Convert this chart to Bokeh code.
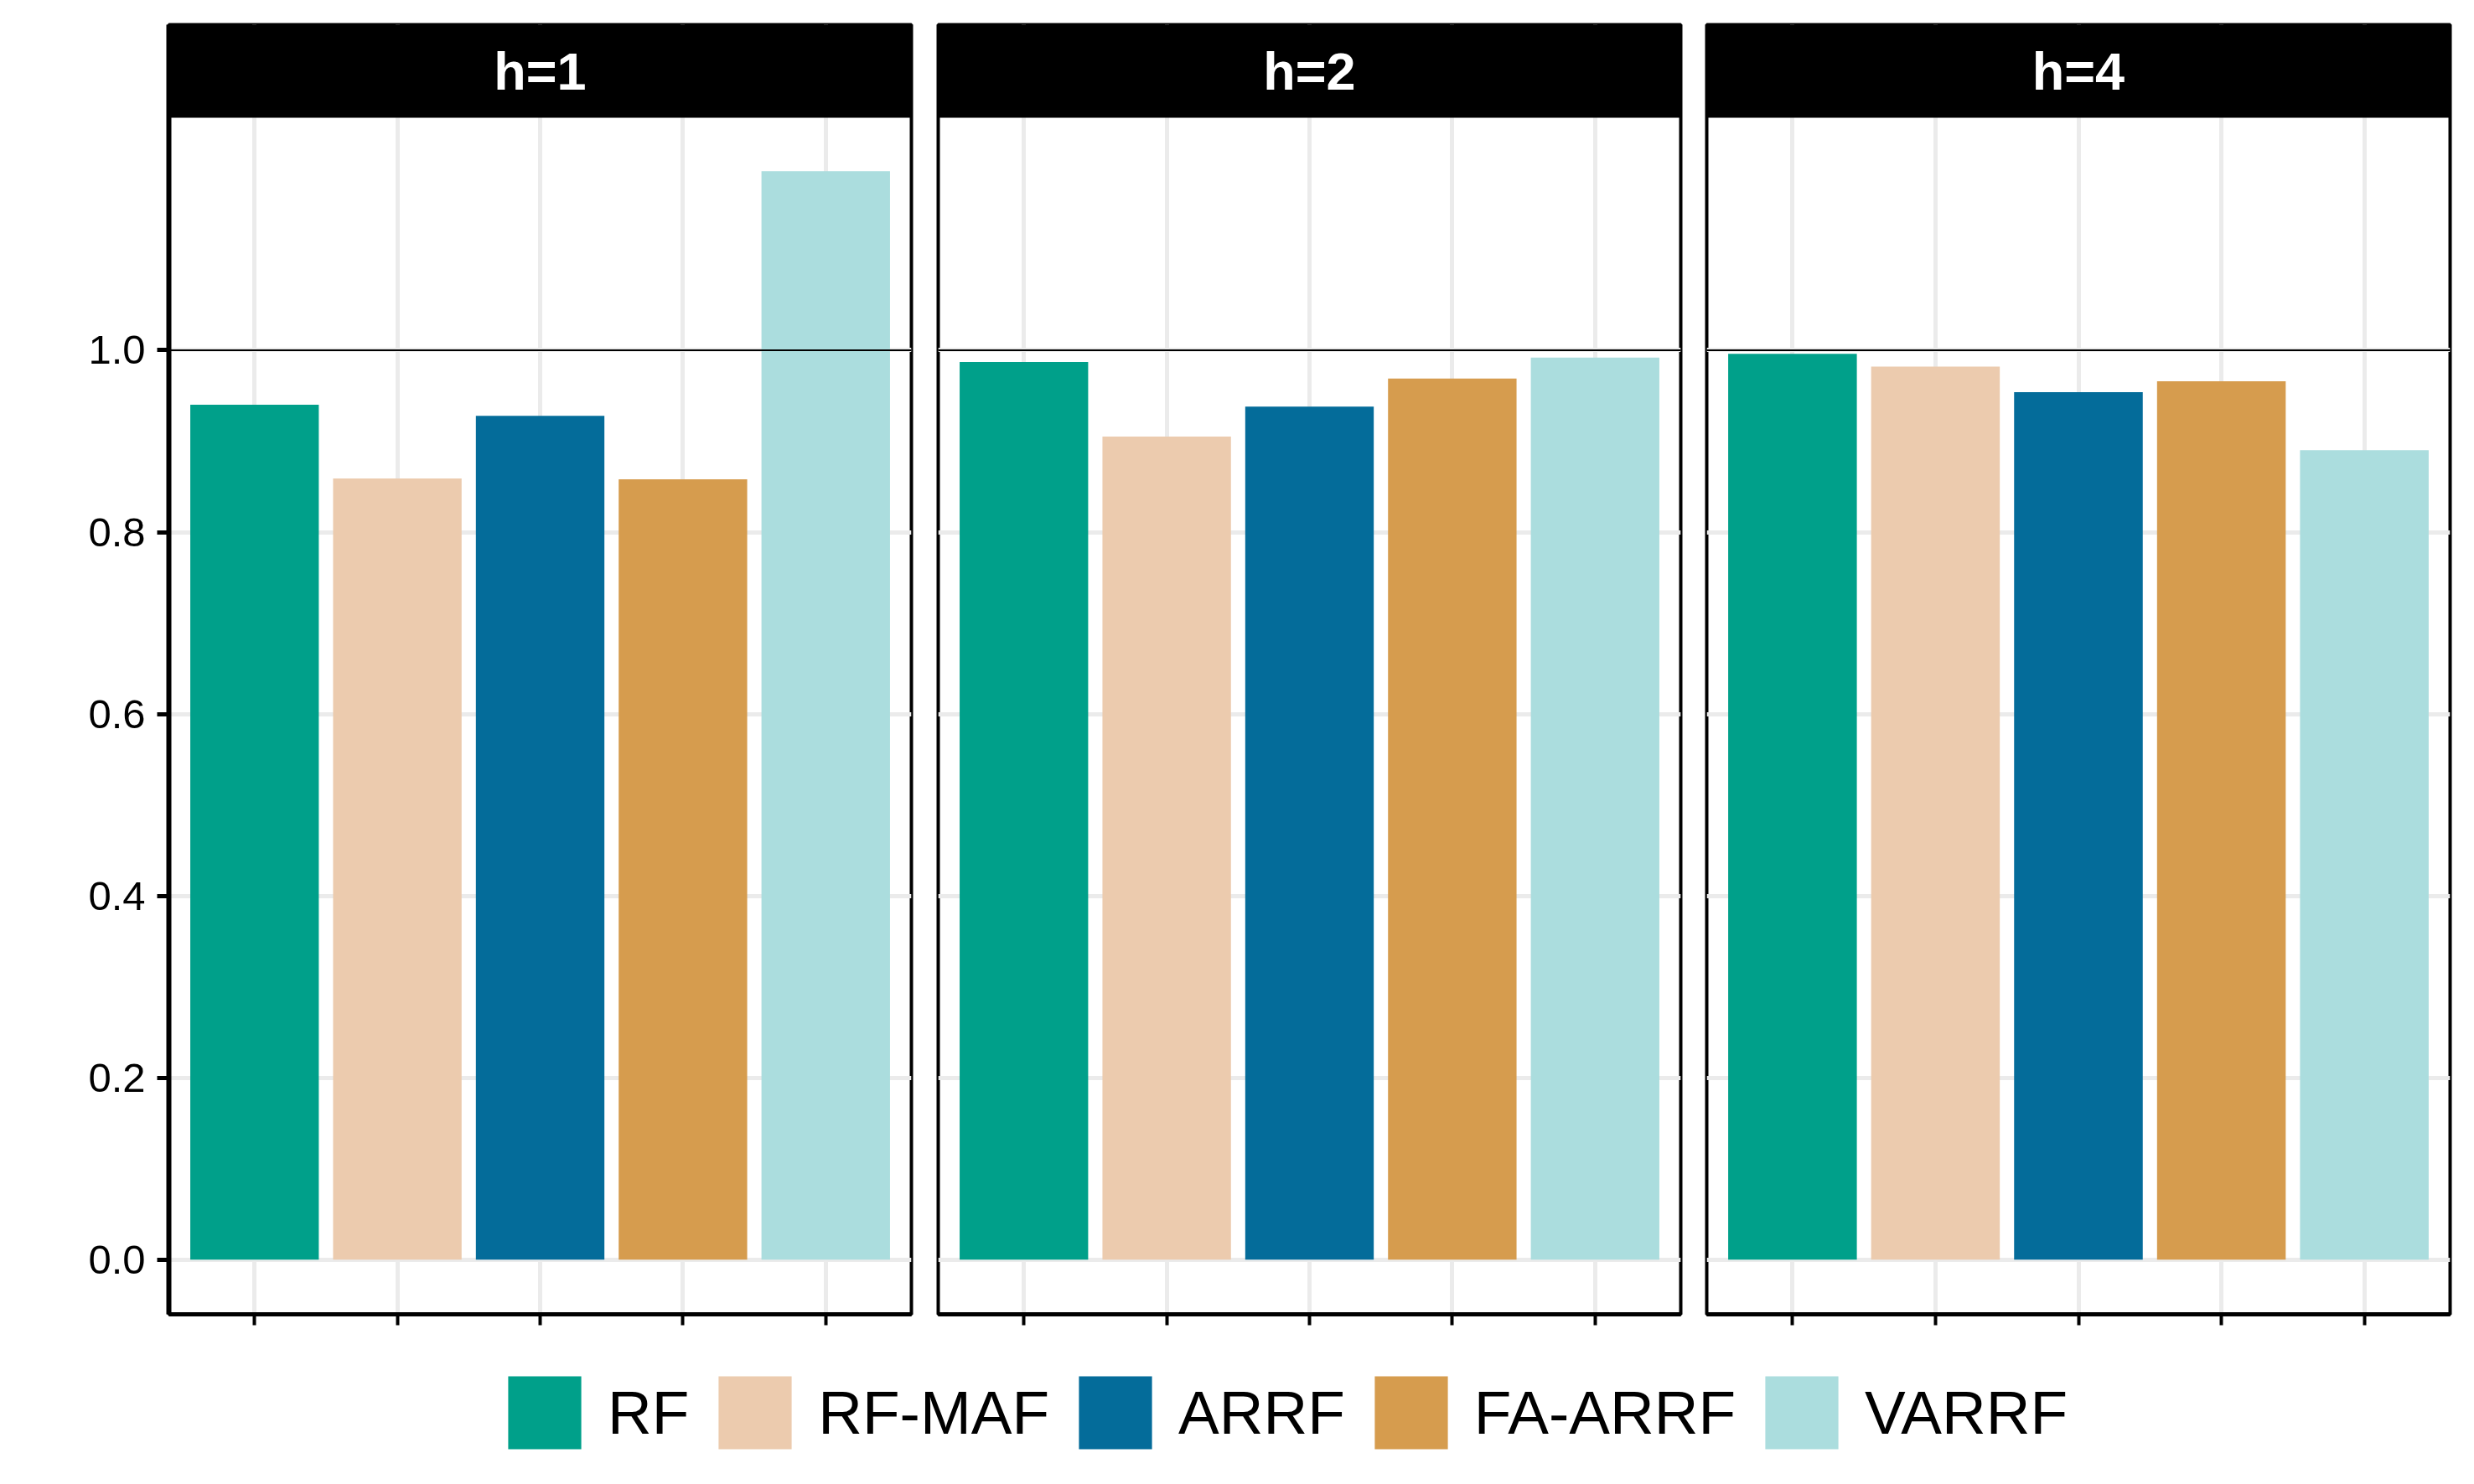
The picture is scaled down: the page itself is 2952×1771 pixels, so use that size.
from bokeh.plotting import figure
from bokeh.models import (Range1d, FixedTicker, PrintfTickFormatter, Span,
                          BoxAnnotation, Label, Legend, LegendItem,
                          CustomLabelingPolicy)
from bokeh.layouts import row, column
from bokeh.embed import file_html
from bokeh.resources import INLINE

# ---------------- data ----------------
models = ["RF", "RF-MAF", "ARRF", "FA-ARRF", "VARRF"]
horizons = ["h=1", "h=2", "h=4"]
vals_h1 = [0.940, 0.859, 0.928, 0.858, 1.197]
vals_h2 = [0.987, 0.905, 0.938, 0.969, 0.992]
vals_h4 = [0.996, 0.982, 0.954, 0.966, 0.890]
colors = ["#00A08A", "#ECCBAE", "#046C9A", "#D69C4E", "#ABDDDE"]
y_ticks = [0.0, 0.2, 0.4, 0.6, 0.8, 1.0]
ref_line = 1.0

panel_values = [vals_h1, vals_h2, vals_h4]

# ---------------- layout constants ----------------
FONT = "Liberation Sans"
X_LO, X_HI = 0.4, 5.6
Y_LO = -0.0602           # panel bottom (ggplot expansion)
PANEL_TOP = 1.2557       # top of the data area (strip starts here)
Y_END = 1.3580           # top of the strip
FIG_H = 1608
GRID_COL = "#EBEBEB"

xpos = [i + 1 for i in range(len(models))]

hide_all_labels = CustomLabelingPolicy(
    code="for (const i of indices) { indices.unset(i) }")


def make_panel(title, vals, first, border_left, border_right, frame_w):
    p = figure(width=border_left + frame_w + border_right, height=FIG_H,
               output_backend="svg", toolbar_location=None,
               x_range=Range1d(X_LO, X_HI), y_range=Range1d(Y_LO, Y_END),
               min_border_left=border_left, min_border_right=border_right,
               min_border_top=29, min_border_bottom=40)
    p.background_fill_color = "white"
    p.border_fill_color = "white"
    p.outline_line_color = "black"
    p.outline_line_width = 4

    # bars
    p.vbar(x=xpos, top=vals, bottom=0, width=0.9, fill_color=colors,
           line_color=None)

    # grids
    p.xgrid.ticker = FixedTicker(ticks=xpos)
    p.ygrid.ticker = FixedTicker(ticks=y_ticks)
    p.grid.grid_line_color = GRID_COL
    p.grid.grid_line_width = 5
    p.ygrid.minor_grid_line_color = None

    # x axis: ticks only, no labels
    p.xaxis.ticker = FixedTicker(ticks=xpos)
    p.xaxis.major_label_policy = hide_all_labels
    p.xaxis.major_label_text_font_size = "10px"
    p.xaxis.major_label_standoff = 0
    p.xaxis.major_tick_out = 13
    p.xaxis.major_tick_in = 0
    p.xaxis.minor_tick_line_color = None
    p.xaxis.major_tick_line_width = 4
    p.xaxis.major_tick_line_color = "black"
    p.xaxis.axis_line_color = "black"
    p.xaxis.axis_line_width = 5

    if first:
        p.yaxis.ticker = FixedTicker(ticks=y_ticks)
        p.yaxis.formatter = PrintfTickFormatter(format="%.1f")
        p.yaxis.major_label_text_font = FONT
        p.yaxis.major_label_text_font_size = "49px"
        p.yaxis.major_label_text_color = "black"
        p.yaxis.major_label_standoff = 14
        p.yaxis.major_tick_out = 14
        p.yaxis.major_tick_in = 0
        p.yaxis.minor_tick_line_color = None
        p.yaxis.major_tick_line_width = 5
        p.yaxis.major_tick_line_color = "black"
        p.yaxis.axis_line_color = "black"
        p.yaxis.axis_line_width = 6
    else:
        p.left = []

    # reference line at 1.0
    p.add_layout(Span(location=ref_line, dimension="width",
                      line_color="black", line_width=2))

    # facet strip
    p.add_layout(BoxAnnotation(bottom=PANEL_TOP, fill_color="black",
                               fill_alpha=1.0, line_color=None))
    strip_h = Y_END - PANEL_TOP
    p.add_layout(Label(x=(X_LO + X_HI) / 2, y=PANEL_TOP + 0.5 * strip_h,
                       text=title, text_align="center",
                       text_baseline="middle", text_color="white",
                       text_font=FONT, text_font_style="bold",
                       text_font_size="63px"))
    return p


p1 = make_panel(horizons[0], panel_values[0], True, 201, 16, 886)
p2 = make_panel(horizons[1], panel_values[1], False, 16, 16, 886)
p3 = make_panel(horizons[2], panel_values[2], False, 15, 16, 887)

# ---------------- legend ----------------
lp = figure(width=2939, height=150, output_backend="svg", toolbar_location=None,
            x_range=Range1d(X_LO, X_HI), y_range=Range1d(Y_LO, Y_END),
            x_axis_location=None, y_axis_location=None,
            min_border_left=0, min_border_right=0, min_border_top=0,
            min_border_bottom=0)
lp.grid.visible = False
lp.outline_line_color = None
items = []
for i, (m, c) in enumerate(zip(models, colors)):
    r = lp.vbar(x=[xpos[i]], top=[vals_h1[i]], width=0.9, fill_color=c,
                line_color=None, visible=False)
    items.append(LegendItem(label=m, renderers=[r]))
legend = Legend(items=items, orientation="horizontal", location=(595, 18),
                glyph_width=109, glyph_height=109, label_standoff=21,
                spacing=24, padding=0, margin=0, border_line_color=None,
                background_fill_alpha=0, label_text_font=FONT,
                label_text_font_size="73px", label_text_color="black")
lp.add_layout(legend, "center")

layout = column(row(p1, p2, p3), lp)

with open("out.html", "w") as f:
    f.write(file_html(layout, INLINE))
